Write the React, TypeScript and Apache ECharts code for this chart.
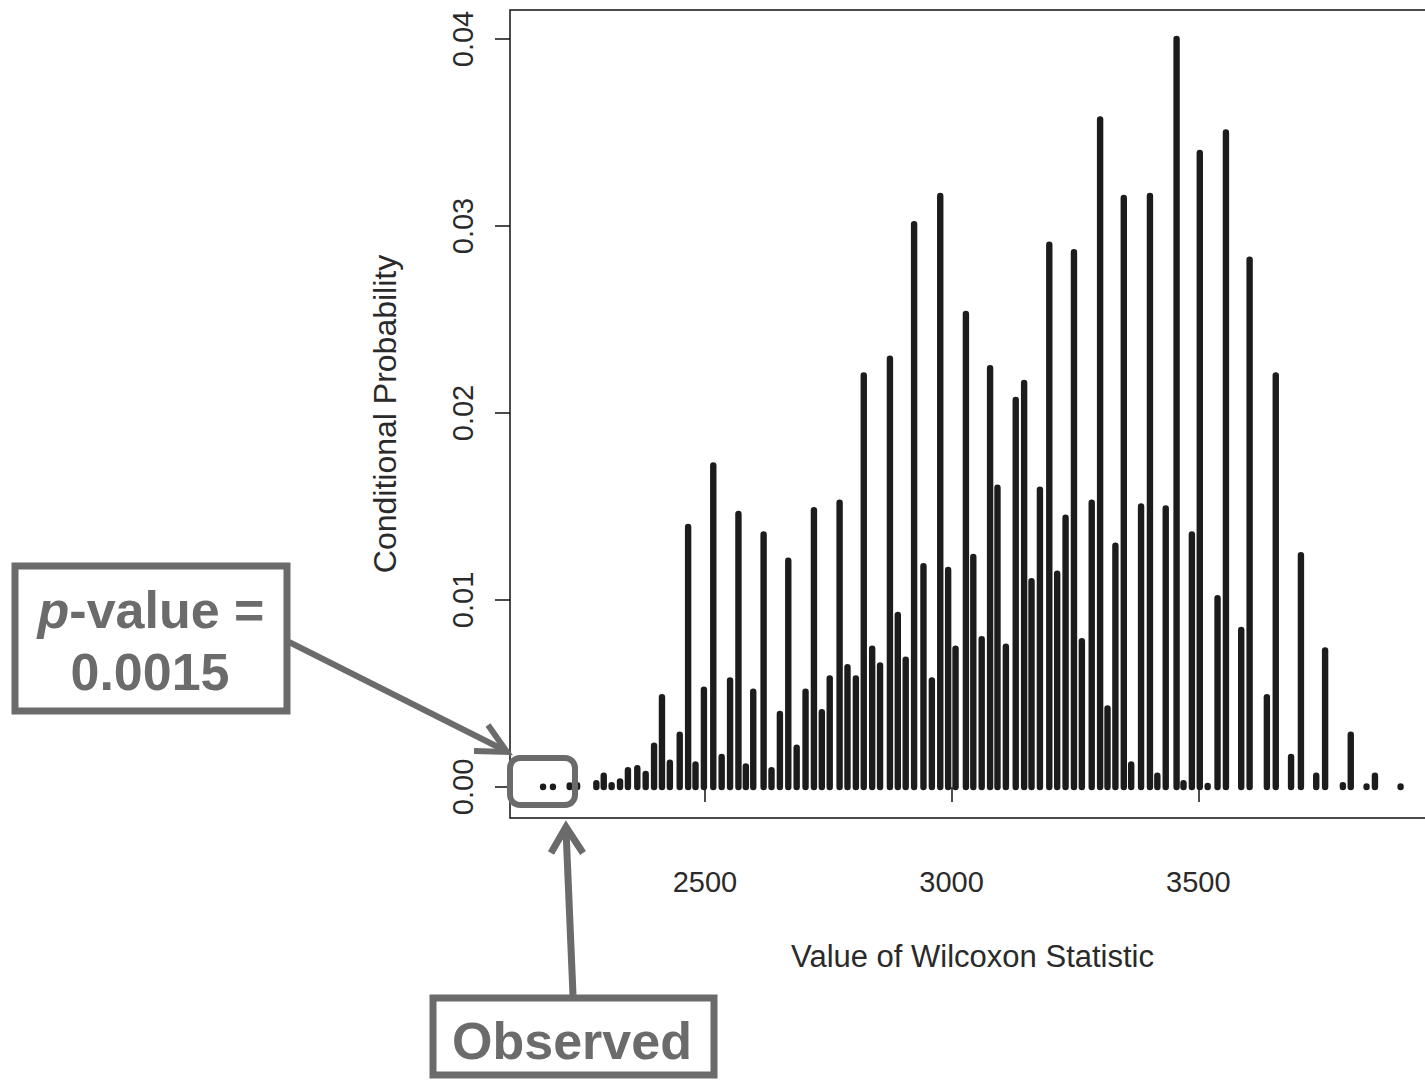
import React, { useEffect, useRef } from "react";
import * as echarts from "echarts";

// Values of the Wilcoxon statistic (x) and their conditional probabilities (y)
const statX = [
  2172, 2192, 2226, 2241, 2280, 2295, 2311, 2328, 2344, 2363,
  2380, 2397, 2413, 2429, 2449, 2466, 2481, 2498, 2517, 2534,
  2551, 2568, 2583, 2598, 2619, 2635, 2652, 2669, 2686, 2704,
  2721, 2737, 2753, 2773, 2789, 2806, 2822, 2839, 2855, 2875,
  2891, 2907, 2924, 2943, 2960, 2977, 2993, 3008, 3029, 3044,
  3061, 3078, 3093, 3110, 3130, 3147, 3162, 3179, 3198, 3214,
  3231, 3248, 3264, 3284, 3301, 3316, 3332, 3349, 3364, 3384,
  3402, 3417, 3434, 3456, 3470, 3487, 3503, 3519, 3539, 3556,
  3587, 3604, 3639, 3657, 3688, 3708, 3739, 3757, 3793, 3809,
  3841, 3858, 3910,
];
const probY = [
  0.00002, 0.00002, 0.00008, 0.0001, 0.0002, 0.0006, 0.0001, 0.0003, 0.0009, 0.001,
  0.0007, 0.0022, 0.0048, 0.0013, 0.0028, 0.0139, 0.0012, 0.0052, 0.0172, 0.0016,
  0.0057, 0.0146, 0.0011, 0.0051, 0.0135, 0.0009, 0.0039, 0.0121, 0.0021, 0.0051,
  0.0148, 0.004, 0.0058, 0.0152, 0.0064, 0.0058, 0.022, 0.0074, 0.0065, 0.0229,
  0.0092, 0.0068, 0.0301, 0.0118, 0.0057, 0.0316, 0.0116, 0.0074, 0.0253, 0.0123,
  0.0079, 0.0224, 0.016, 0.0075, 0.0207, 0.0216, 0.011, 0.0159, 0.029, 0.0114,
  0.0144, 0.0286, 0.0078, 0.0152, 0.0357, 0.0042, 0.0129, 0.0315, 0.0012, 0.015,
  0.0316, 0.0006, 0.0149, 0.04, 0.0002, 0.0135, 0.0339, 0.00005, 0.0101, 0.035,
  0.0084, 0.0282, 0.0048, 0.022, 0.0016, 0.0124, 0.0006, 0.0073, 0.0001, 0.0028,
  0.00003, 0.0006, 0.00003,
];
const xTicks = [2500, 3000, 3500];
const yTicks = [0, 0.01, 0.02, 0.03, 0.04];

const xTitle = "Value of Wilcoxon Statistic";
const yTitle = "Conditional Probability";
const pLabelLine1 = "{it|p}-value =";
const pLabelLine2 = "0.0015";
const observedLabel = "Observed";

const GRAY = "#6b6b6b";
const FONT = "'Liberation Sans', Arial, Helvetica, sans-serif";

export default function App() {
  const ref = useRef<HTMLDivElement>(null);

  useEffect(() => {
    if (!ref.current) return;
    const chart = echarts.init(ref.current, null, { renderer: "svg" });
    const data = statX.map((x, i) => [x, probY[i]]);
    const BAR_W = 6.4;

    const option: any = {
      animation: false,
      backgroundColor: "#ffffff",
      textStyle: { fontFamily: FONT },
      grid: {
        show: true,
        left: 510,
        right: 0,
        top: 10,
        bottom: 262,
        borderColor: "#111111",
        borderWidth: 1.5,
        backgroundColor: "transparent",
      },
      xAxis: {
        type: "value",
        min: 2105,
        max: 4000,
        axisLine: { show: false },
        splitLine: { show: false },
        axisTick: {
          show: true,
          inside: false,
          length: 15,
          customValues: xTicks,
          lineStyle: { color: "#111111", width: 1.5 },
        },
        axisLabel: {
          customValues: xTicks,
          fontSize: 29,
          color: "#2a2a2a",
          margin: 49,
          fontFamily: FONT,
          formatter: (v: number) => String(Math.round(v)),
        },
        name: xTitle,
        nameLocation: "middle",
        nameGap: 123,
        nameTextStyle: {
          fontSize: 31,
          color: "#2a2a2a",
          fontFamily: FONT,
          padding: [0, 10, 0, 0],
        },
      },
      yAxis: {
        type: "value",
        min: -0.00166,
        max: 0.04155,
        axisLine: { show: false },
        splitLine: { show: false },
        axisTick: {
          show: true,
          inside: false,
          length: 15,
          customValues: yTicks,
          lineStyle: { color: "#111111", width: 1.5 },
        },
        axisLabel: {
          customValues: yTicks,
          rotate: 90,
          fontSize: 29,
          color: "#2a2a2a",
          margin: 33,
          fontFamily: FONT,
          formatter: (v: number) => v.toFixed(2),
        },
        name: yTitle,
        nameLocation: "middle",
        nameGap: 109,
        nameTextStyle: { fontSize: 32, color: "#2a2a2a", fontFamily: FONT },
      },
      series: [
        {
          type: "custom",
          data,
          clip: true,
          renderItem: (params: any, api: any) => {
            const x = api.value(0);
            const y = api.value(1);
            const top = api.coord([x, y]);
            const base = api.coord([x, 0]);
            return {
              type: "rect",
              shape: {
                x: top[0] - BAR_W / 2,
                y: top[1] - BAR_W / 2,
                width: BAR_W,
                height: base[1] - top[1] + BAR_W,
                r: BAR_W / 2,
              },
              style: { fill: "#1c1c1c" },
            };
          },
        },
      ],
      graphic: [
        // p-value box
        {
          type: "rect",
          shape: { x: 15, y: 566, width: 272, height: 145 },
          style: { fill: "#ffffff", stroke: GRAY, lineWidth: 7 },
          z: 100,
        },
        {
          type: "text",
          x: 151,
          y: 610,
          style: {
            text: pLabelLine1,
            fontSize: 52,
            fontWeight: "bold",
            fontFamily: FONT,
            fill: GRAY,
            align: "center",
            verticalAlign: "middle",
            rich: {
              it: {
                fontSize: 52,
                fontWeight: "bold",
                fontStyle: "italic",
                fontFamily: FONT,
                fill: GRAY,
              },
            },
          },
          z: 101,
        },
        {
          type: "text",
          x: 150,
          y: 672,
          style: {
            text: pLabelLine2,
            fontSize: 52,
            fontWeight: "bold",
            fontFamily: FONT,
            fill: GRAY,
            align: "center",
            verticalAlign: "middle",
          },
          z: 101,
        },
        // arrow from p-value box
        {
          type: "line",
          shape: { x1: 289, y1: 642, x2: 504, y2: 750 },
          style: { stroke: GRAY, lineWidth: 6 },
          z: 100,
        },
        {
          type: "polyline",
          shape: { points: [[474, 751], [507, 752], [488, 725]] },
          style: { stroke: GRAY, lineWidth: 6, fill: null, lineJoin: "miter" },
          z: 100,
        },
        // small rounded box around observed values
        {
          type: "rect",
          shape: { x: 510, y: 758, width: 65, height: 47, r: 10 },
          style: { fill: null, stroke: GRAY, lineWidth: 6 },
          z: 100,
        },
        // arrow from Observed box
        {
          type: "line",
          shape: { x1: 573, y1: 995, x2: 566, y2: 830 },
          style: { stroke: GRAY, lineWidth: 7 },
          z: 100,
        },
        {
          type: "polyline",
          shape: { points: [[551, 853], [566, 827], [583, 853]] },
          style: { stroke: GRAY, lineWidth: 7, fill: null, lineJoin: "miter" },
          z: 100,
        },
        // Observed box
        {
          type: "rect",
          shape: { x: 433, y: 998, width: 281, height: 77 },
          style: { fill: "#ffffff", stroke: GRAY, lineWidth: 7 },
          z: 100,
        },
        {
          type: "text",
          x: 572,
          y: 1041,
          style: {
            text: observedLabel,
            fontSize: 52,
            fontWeight: "bold",
            fontFamily: FONT,
            fill: GRAY,
            align: "center",
            verticalAlign: "middle",
          },
          z: 101,
        },
      ],
    };

    chart.setOption(option);
    return () => chart.dispose();
  }, []);

  return (
    <div
      style={{
        position: "absolute",
        left: 0,
        top: 0,
        width: 1425,
        height: 1080,
        background: "#ffffff",
        overflow: "hidden",
      }}
    >
      <div ref={ref} style={{ width: 1445, height: 1080 }} />
    </div>
  );
}
